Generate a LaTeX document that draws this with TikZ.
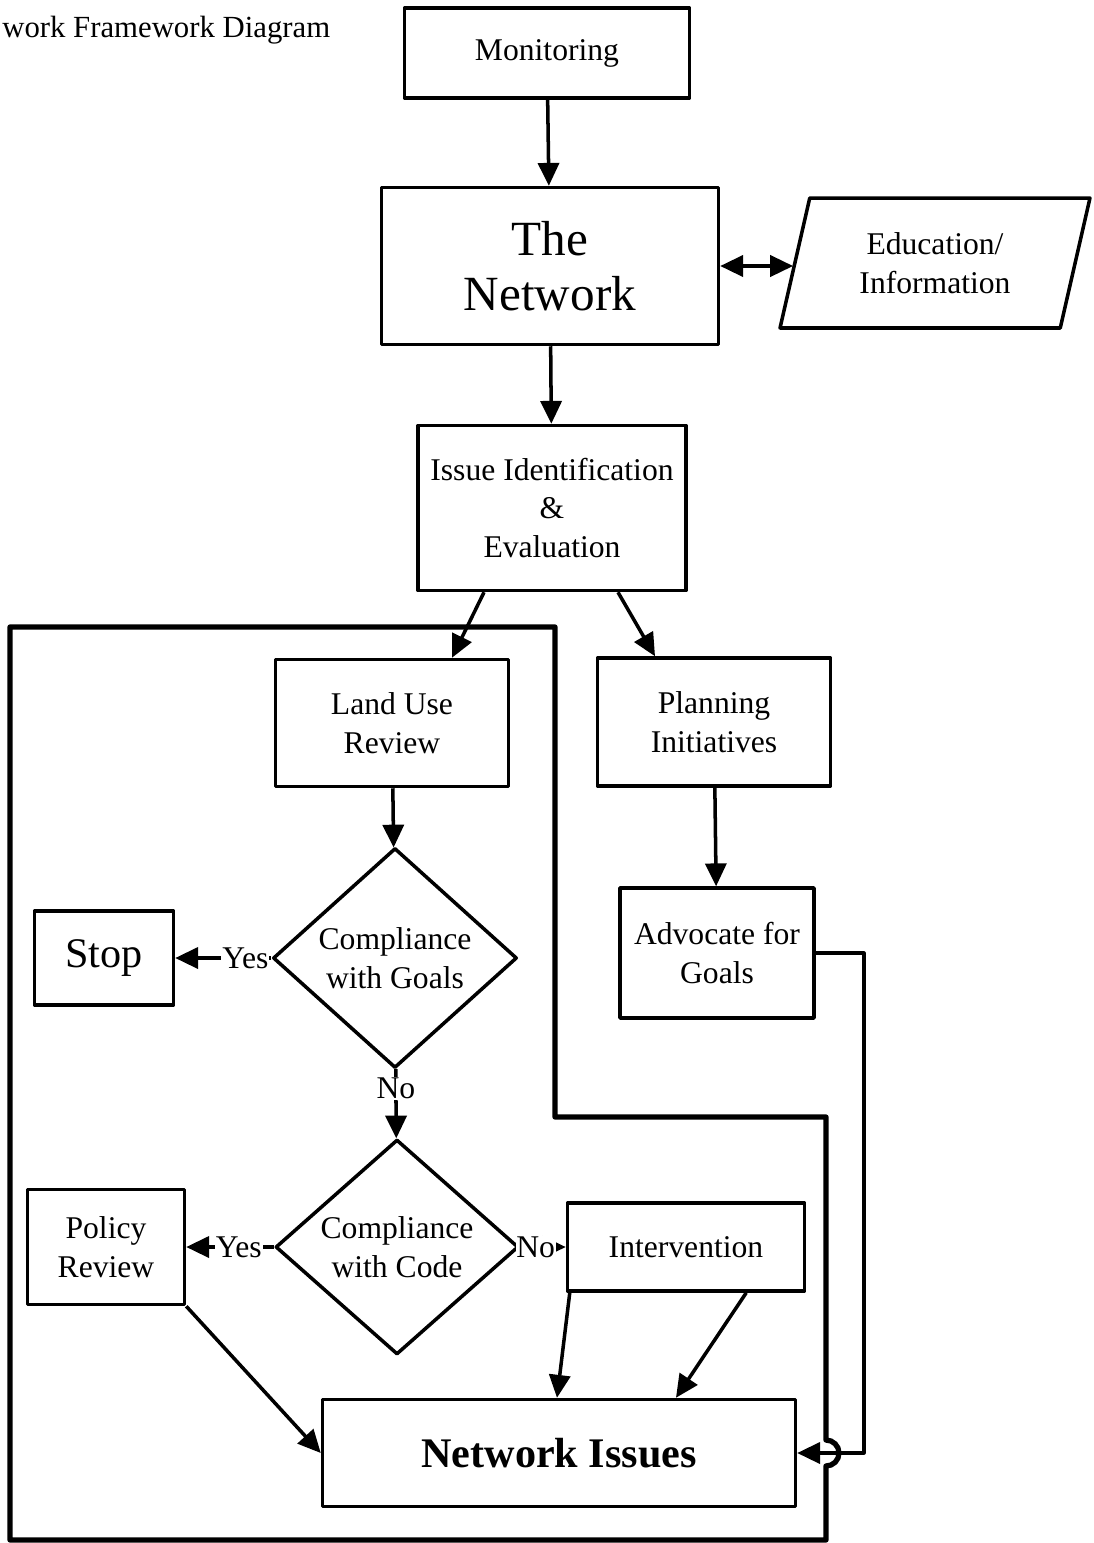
\documentclass[tikz,border=0pt]{standalone}
\usepackage{fontspec}
\setmainfont{Liberation Serif}
\usetikzlibrary{arrows.meta, shapes.geometric}

\begin{document}
\begin{tikzpicture}[x=0.02cm, y=-0.02cm, line join=round,
    >={Triangle[length=13pt, width=12pt]},
    box/.style={draw, line width=2pt, align=center, inner sep=2pt,
      font=\fontsize{18}{22}\selectfont},
    decision/.style={diamond, draw, line width=2pt, align=center, inner sep=0pt,
      font=\fontsize{18}{22}\selectfont},
    flow/.style={->, line width=2pt},
    tag/.style={fill=white, inner sep=0.5pt, font=\fontsize{18}{20}\selectfont}]

    % --- page, in pixels of the scan
    \useasboundingbox (0,0) rectangle (1093,1543);

    \node[anchor=base west, inner sep=0pt, font=\fontsize{17.5}{20}\selectfont] (title) at (2,37)
      {work Framework Diagram};

    % --- the chain at the top
    \node[box, minimum width=5.7cm, minimum height=1.8cm] (mon) at (547,53) {Monitoring};
    \node[box, minimum width=6.74cm, minimum height=3.14cm,
      font=\fontsize{28}{31}\selectfont] (net) at (550,266) {The\\Network};
    \node[trapezium, trapezium left angle=64, trapezium right angle=116,
      trapezium stretches body, draw, line width=2pt, align=center,
      minimum width=6.2cm, minimum height=2.6cm, inner sep=0pt,
      font=\fontsize{18}{22}\selectfont] (edu) at (935,263) {Education/\\Information};
    \node[box, minimum width=5.36cm, minimum height=3.3cm] (issue) at (552,508)
      {Issue Identification\\\&\\Evaluation};

    % --- the two branches
    \node[box, minimum width=4.66cm, minimum height=2.54cm] (land) at (392,723) {Land Use\\Review};
    \node[box, minimum width=4.66cm, minimum height=2.56cm] (plan) at (714,722) {Planning\\Initiatives};
    \node[decision, minimum width=4.88cm, minimum height=4.4cm] (goals) at (395,958)
      {Compliance\\with Goals};
    \node[box, minimum width=2.78cm, minimum height=1.88cm,
      font=\fontsize{24}{26}\selectfont] (stop) at (104,958) {Stop};
    \node[box, minimum width=3.88cm, minimum height=2.6cm] (adv) at (717,953) {Advocate for\\Goals};
    \node[decision, minimum width=4.86cm, minimum height=4.3cm] (code) at (397,1247)
      {Compliance\\with Code};
    \node[box, minimum width=3.14cm, minimum height=2.3cm] (policy) at (106,1247) {Policy\\Review};
    \node[box, minimum width=4.74cm, minimum height=1.76cm] (interv) at (686,1247) {Intervention};
    \node[box, minimum width=9.46cm, minimum height=2.14cm,
      font=\bfseries\fontsize{24}{26}\selectfont] (issues) at (559,1453) {Network Issues};

    % --- the frame round the land use branch, with a hop over the return line
    \draw[line width=3pt] (10,627) -- (555,627) -- (555,1117) -- (826,1117) -- (826,1440)
      arc[start angle=90, end angle=-90, radius=0.26cm] -- (826,1540) -- (10,1540) -- cycle;

    % --- connectors
    \draw[flow] (mon) -- (net);
    \draw[flow, <->] (net.east) -- (net.east -| edu.west);
    \draw[flow] (net) -- (issue);
    \draw[flow] ([xshift=-1.36cm]issue.south) -- ([xshift=1.2cm]land.north);
    \draw[flow] ([xshift=1.32cm]issue.south) -- ([xshift=-1.18cm]plan.north);
    \draw[flow] (land) -- (goals);
    \draw[flow] (plan) -- (adv);
    \draw[flow] (goals) -- node[tag, pos=0.27] {Yes} (stop);
    \draw[flow] (goals) -- node[tag, pos=0.28] {No} (code);
    \draw[flow] (code) -- node[tag, pos=0.4] {Yes} (policy);
    \draw[flow] (code) -- node[tag, pos=0.34] {No} (interv);
    \draw[flow] (policy.south east) -- (issues.west);
    \draw[flow] ([xshift=0.08cm]interv.south west) -- ([xshift=-0.04cm]issues.north);
    \draw[flow] ([xshift=-1.2cm]interv.south east) -- ([xshift=2.34cm]issues.north);
    \draw[flow] (adv.east) -- ++(48,0) |- (issues.east);
\end{tikzpicture}
\end{document}
